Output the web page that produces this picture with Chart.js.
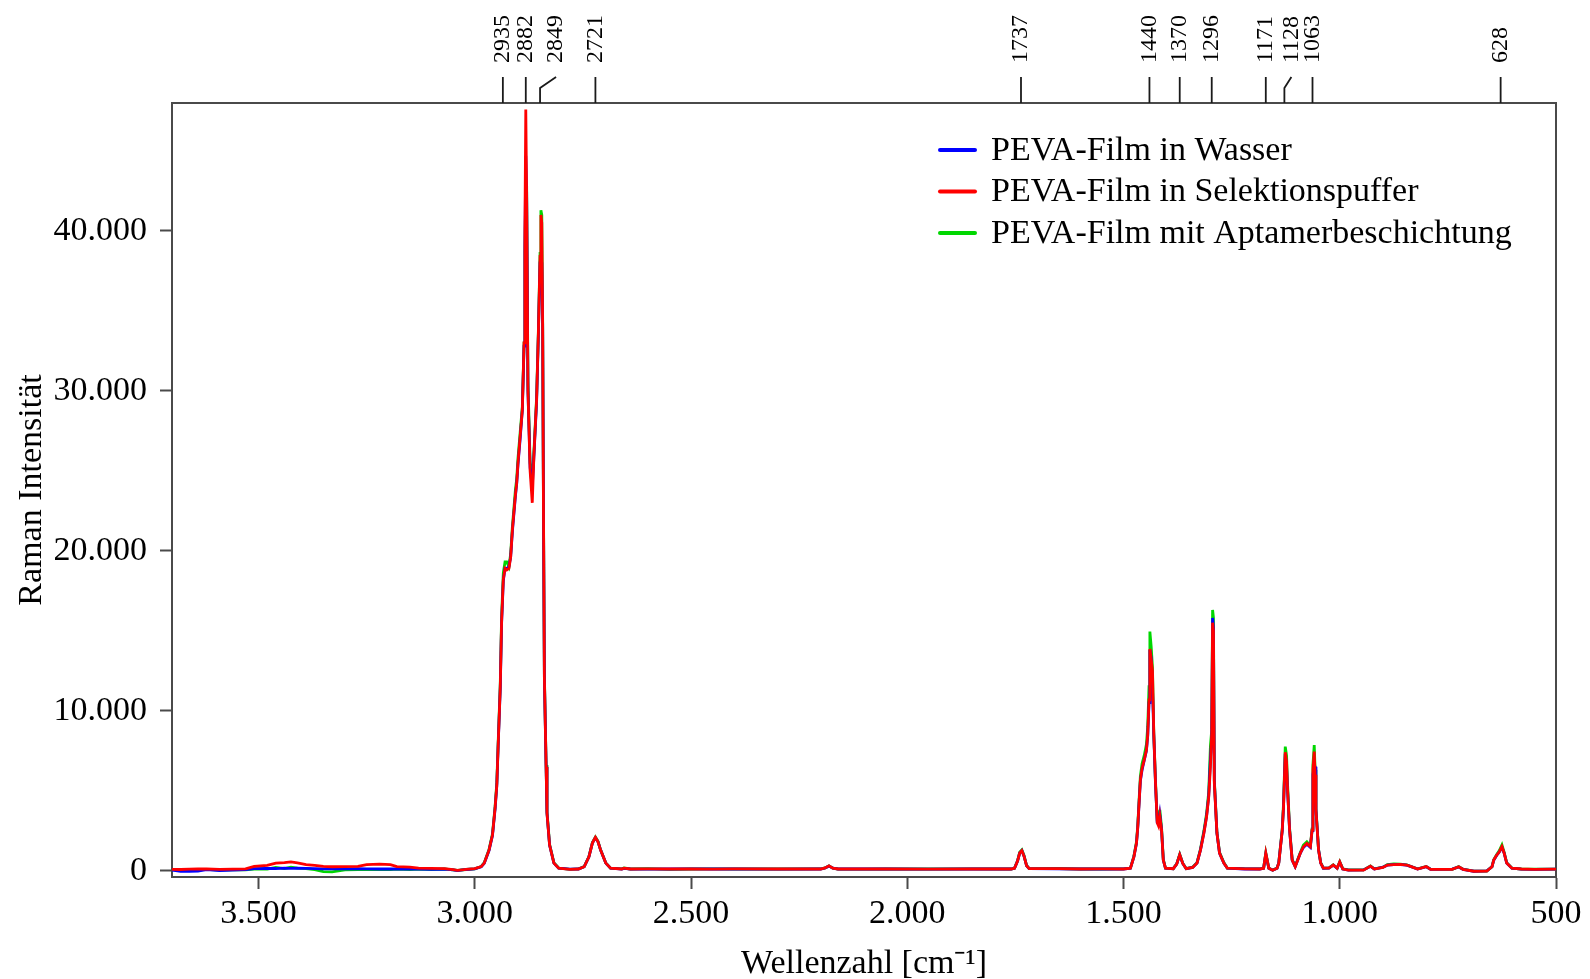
<!DOCTYPE html>
<html>
<head>
<meta charset="utf-8">
<script src="https://cdn.jsdelivr.net/npm/chart.js@4/dist/chart.umd.min.js"></script>
<style>
html,body{margin:0;padding:0;background:#fff;}
#wrap{width:1590px;height:979px;position:relative;}
</style>
</head>
<body>
<div id="wrap"><canvas id="c" width="1590" height="979"></canvas></div>
<script>
// ---------- data ----------
const seriesLabels = ['PEVA-Film in Wasser', 'PEVA-Film in Selektionspuffer', 'PEVA-Film mit Aptamerbeschichtung'];

const wavenumbers = [
  3700,3680,3660,3640,3620,3590,3560,3530,3510,3480,3460,3440,3425,3410,3390,3370,3350,3330,3300,3270,
  3250,3220,3195,3180,3150,3130,3100,3070,3050,3040,3020,3000,2985,2978,2967,2959,2953,2949,2946,2941,
  2938,2934,2930,2926,2921,2917,2913,2906,2903,2900,2895,2890,2886,2884,2882,2880,2877,2872,2867,2863,
  2857,2853,2849,2847,2845,2843,2841,2839,2835,2833,2827,2817,2806,2780,2760,2747,2736,2728,2721,2715,
  2709,2697,2686,2660,2655,2640,2600,2550,2500,2450,2400,2300,2200,2190,2181,2172,2160,2100,2050,1950,
  1850,1760,1752,1745,1740,1735,1730,1724,1718,1650,1600,1550,1500,1484,1476,1470,1467,1464,1461,1457,
  1452,1447,1444,1441,1439,1436,1433,1430,1426,1422,1419,1416,1412,1408,1403,1385,1377,1370,1363,1355,
  1340,1330,1322,1314,1308,1303,1299,1296,1294,1292,1290,1284,1278,1268,1260,1220,1185,1176,1171,1164,
  1155,1145,1141,1137,1133,1130,1126,1123,1121,1116,1110,1103,1091,1084,1076,1068,1064,1062,1059,1057,
  1055,1049,1044,1038,1025,1015,1006,1000,993,980,945,929,920,900,890,875,860,845,835,820,
  800,790,740,725,715,690,660,648,644,637,631,625,620,614,602,580,550,500
];

const intensityWasser = [
  40,-40,-50,-30,60,0,30,60,120,140,130,150,140,160,140,120,110,130,110,120,
  110,100,110,100,90,100,80,90,40,0,70,110,240,460,1250,2200,3850,5300,7700,11400,
  15400,18100,18900,18900,19000,19600,21200,23400,24200,25400,27000,28800,32800,39000,44700,42400,30000,25200,24000,26000,
  29300,33400,38000,38400,38000,34200,22000,12100,6500,3600,1600,470,150,90,100,240,860,1720,2060,1800,
  1280,470,150,90,140,100,90,100,110,100,100,90,100,160,280,150,100,100,100,90,
  100,100,150,600,1100,1250,900,300,120,110,100,100,100,150,860,1700,2700,4200,5600,6300,
  6900,7500,8400,10500,13800,13300,11400,8500,5400,3000,2900,3500,2550,660,150,120,400,980,450,120,
  200,480,1300,2400,3400,4650,7000,8200,15800,15200,5600,2350,1100,470,150,100,100,150,1050,150,
  20,150,480,1500,2500,4000,7300,6500,5200,2550,660,250,1100,1450,1650,1450,2500,6000,6600,6500,
  3800,1300,470,150,160,340,150,520,100,30,40,270,100,210,340,370,380,340,250,100,
  240,80,90,230,80,-40,-20,240,650,960,1170,1450,1100,470,150,90,80,90
];

const intensitySelektionspuffer = [
  80,70,90,100,110,80,90,110,260,330,470,500,550,490,380,330,270,240,250,260,
  380,400,370,250,220,150,140,130,60,10,80,120,250,470,1280,2220,3900,5350,7730,11480,
  15490,18200,18900,18800,18900,19600,21300,23500,24250,25500,27150,28800,33000,40000,47600,42000,30000,25000,23000,26100,
  29450,33500,38400,41000,40500,34000,22000,12100,6480,3600,1600,470,150,80,100,240,860,1720,2080,1800,
  1280,470,150,100,150,100,110,100,100,90,110,100,100,170,300,150,100,100,100,90,
  100,100,150,600,1100,1250,900,300,120,120,100,110,100,150,860,1720,2740,4220,5660,6400,
  6920,7540,8480,10670,13860,13200,12500,8600,5480,3000,2800,3400,2530,660,150,120,400,1000,450,120,
  200,470,1280,2350,3350,4600,6500,8600,15500,15000,5500,2350,1100,470,150,110,100,150,1100,150,
  20,150,470,1490,2500,3990,7400,6800,5300,2530,660,250,1100,1490,1700,1490,2530,6300,7440,6000,
  3770,1280,470,150,150,350,150,550,100,30,30,280,100,200,350,380,390,350,250,100,
  250,80,80,240,80,-40,-30,240,660,970,1180,1500,1100,470,150,100,80,90
];

const intensityAptamer = [
  60,20,30,50,80,30,40,50,90,100,200,130,220,150,120,60,-60,-80,40,60,
  80,70,60,90,70,90,60,100,50,10,70,110,260,500,1320,2300,4000,5500,7900,11700,
  15800,18600,19300,19300,19000,19800,21500,23800,24500,25800,27400,29000,33000,38500,43000,42800,30600,25500,24500,26300,
  29600,33600,38600,41300,41000,34500,22400,12300,6600,3700,1650,500,160,80,110,250,880,1760,2100,1830,
  1300,480,150,110,160,100,120,80,100,110,100,100,110,170,300,150,100,90,100,100,
  110,100,160,620,1150,1300,950,320,120,130,100,100,110,160,900,1800,2850,4400,5900,6700,
  7200,7900,9000,11500,14950,14000,12700,8600,5600,3100,3000,3800,2700,700,160,120,420,1020,460,120,
  220,500,1350,2500,3550,4900,7800,8800,16300,15800,5700,2400,1150,500,160,120,110,160,1100,160,
  30,160,500,1550,2600,4200,7750,7200,5600,2650,700,270,1150,1600,1800,1550,2600,6600,7850,6300,
  3900,1320,500,160,170,360,150,560,110,40,40,290,110,220,380,420,400,360,260,110,
  260,90,80,250,90,-30,-30,250,680,1000,1250,1600,1150,500,160,100,90,90
];

const xTickValues = [3500, 3000, 2500, 2000, 1500, 1000, 500];
const yTickValues = [0, 10000, 20000, 30000, 40000];
const peakLabels = [2935, 2882, 2849, 2721, 1737, 1440, 1370, 1296, 1171, 1128, 1063, 628];

// ---------- styling ----------
const seriesColors = ['rgb(0,0,255)', 'rgb(255,0,0)', 'rgb(0,215,0)'];
const drawOrder = [1, 0, 2];              // red on top, then blue, green underneath
const labelShiftPx = {2849: 16, 1128: 7}; // displaced labels with bent connectors
const axisColor = '#4a4a4a';
const serif = '"Liberation Serif", "Times New Roman", serif';

function deFormat(v) {
  const s = String(Math.abs(v)).replace(/\B(?=(\d{3})+(?!\d))/g, '.');
  return (v < 0 ? '-' : '') + s;
}

const seriesValues = [intensityWasser, intensitySelektionspuffer, intensityAptamer];
const datasets = seriesValues.map((vals, i) => ({
  label: seriesLabels[i],
  data: wavenumbers.map((w, j) => ({x: w, y: vals[j]})),
  borderColor: seriesColors[i],
  backgroundColor: seriesColors[i],
  borderWidth: 2.8,
  pointRadius: 0,
  tension: 0,
  fill: false,
  order: drawOrder[i]
}));

const peakConnectors = {
  id: 'peakConnectors',
  beforeDraw(chart) {
    const s = chart.scales.xTop;
    const items = s.getLabelItems(chart.chartArea);
    items.forEach(it => {
      if (it._placed) return;
      const v = Number(it.label);
      const sh = labelShiftPx[v] || 0;
      it.options.translation[0] = s.getPixelForValue(v) + sh;
      it.textOffset = 0;
      it.options.textBaseline = 'middle';
      it._placed = true;
    });
  },
  afterDraw(chart) {
    const s = chart.scales.xTop;
    const ctx = chart.ctx;
    const top = chart.chartArea.top;
    ctx.save();
    ctx.strokeStyle = '#1a1a1a';
    ctx.lineWidth = 1.8;
    peakLabels.forEach(v => {
      const x = s.getPixelForValue(v);
      const sh = labelShiftPx[v] || 0;
      ctx.beginPath();
      ctx.moveTo(x, top);
      if (sh) { ctx.lineTo(x, top - 15); ctx.lineTo(x + sh, top - 26); }
      else { ctx.lineTo(x, top - 26); }
      ctx.stroke();
    });
    ctx.restore();
  }
};

const insideLegend = {
  id: 'insideLegend',
  afterDraw(chart) {
    const ctx = chart.ctx;
    const a = chart.chartArea;
    ctx.save();
    ctx.font = '34px ' + serif;
    ctx.textBaseline = 'middle';
    ctx.textAlign = 'left';
    chart.data.datasets.forEach((ds, i) => {
      const y = a.top + 47 + i * 41.5;
      const x0 = a.right - 618;
      ctx.strokeStyle = ds.borderColor;
      ctx.lineWidth = 4;
      ctx.lineCap = 'round';
      ctx.beginPath();
      ctx.moveTo(x0 + 2, y);
      ctx.lineTo(x0 + 37, y);
      ctx.stroke();
      ctx.fillStyle = '#000';
      ctx.fillText(ds.label, x0 + 53, y + 1);
    });
    ctx.restore();
  }
};

new Chart(document.getElementById('c'), {
  type: 'line',
  data: {datasets},
  plugins: [peakConnectors, insideLegend],
  options: {
    responsive: false,
    animation: false,
    devicePixelRatio: 1,
    layout: {padding: {left: 0, right: 34, top: 0, bottom: 0}},
    plugins: {legend: {display: false}, tooltip: {enabled: false}},
    scales: {
      x: {
        type: 'linear', position: 'bottom', reverse: true, min: 500, max: 3700,
        afterBuildTicks: s => { s.ticks = xTickValues.map(v => ({value: v})); },
        afterFit: s => { s.height = 102; },
        ticks: {autoSkip: false, maxRotation: 0, minRotation: 0, padding: 5, color: '#000',
                font: {family: serif, size: 34}, callback: v => deFormat(v)},
        grid: {drawOnChartArea: false, drawTicks: true, tickLength: 12, tickColor: axisColor, tickWidth: 2},
        border: {display: true, color: axisColor, width: 2},
        title: {display: true, text: 'Wellenzahl [cm\u207B\u00B9]', color: '#000',
                font: {family: serif, size: 34, lineHeight: 0.9}, padding: {top: 0, bottom: 0}}
      },
      xTop: {
        type: 'linear', position: 'top', reverse: true, min: 500, max: 3700,
        afterBuildTicks: s => { s.ticks = peakLabels.map(v => ({value: v})); },
        afterFit: s => { s.height = 103; },
        ticks: {autoSkip: false, maxRotation: 90, minRotation: 90, padding: 40, color: '#000',
                font: {family: serif, size: 24}, callback: v => String(v)},
        grid: {drawOnChartArea: false, drawTicks: false},
        border: {display: true, color: axisColor, width: 2}
      },
      y: {
        type: 'linear', position: 'left', min: -400, max: 48000,
        afterBuildTicks: s => { s.ticks = yTickValues.map(v => ({value: v})); },
        afterFit: s => { s.width = 172; },
        ticks: {padding: 13, color: '#000', font: {family: serif, size: 34},
                callback: v => deFormat(v)},
        grid: {drawOnChartArea: false, drawTicks: true, tickLength: 12, tickColor: axisColor, tickWidth: 2},
        border: {display: true, color: axisColor, width: 2},
        title: {display: true, text: 'Raman Intensität', color: '#000',
                font: {family: serif, size: 34}, padding: {top: 12, bottom: 0}}
      },
      yRight: {
        type: 'linear', position: 'right', min: -400, max: 48000,
        afterFit: s => { s.width = 0; },
        ticks: {display: false},
        grid: {drawOnChartArea: false, drawTicks: false},
        border: {display: true, color: axisColor, width: 2}
      }
    }
  }
});
</script>
</body>
</html>
